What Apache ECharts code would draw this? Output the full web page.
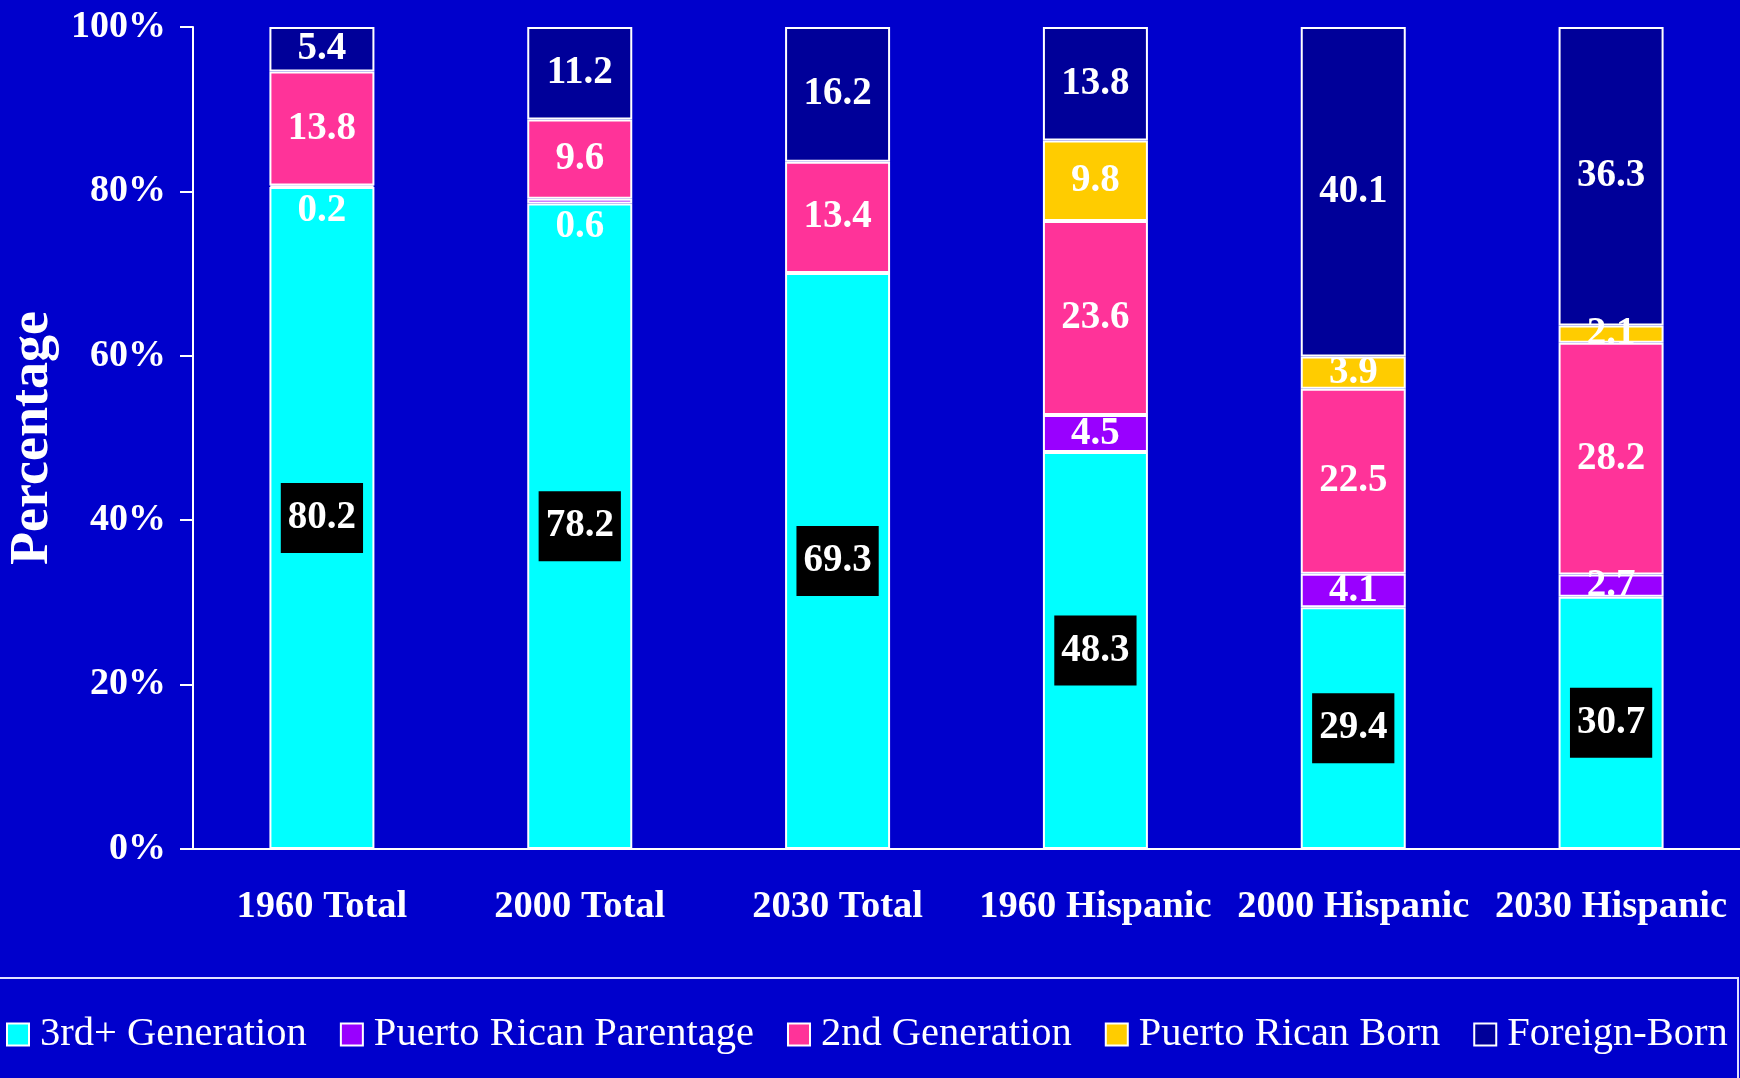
<!DOCTYPE html>
<html>
<head>
<meta charset="utf-8">
<title>Generations</title>
<script src="https://cdn.jsdelivr.net/npm/echarts@6/dist/echarts.min.js"></script>
<style>
  html, body { margin: 0; padding: 0; background: #0000cc; }
  #chart { width: 1740px; height: 1078px; }
</style>
</head>
<body>
<div id="chart"></div>
<script>
const categories = ['1960 Total', '2000 Total', '2030 Total', '1960 Hispanic', '2000 Hispanic', '2030 Hispanic']
const seriesNames = ['3rd+ Generation', 'Puerto Rican Parentage', '2nd Generation', 'Puerto Rican Born', 'Foreign-Born']
// values as labelled on the slide (null = no segment)
const thirdGen = [80.2, 78.2, 69.3, 48.3, 29.4, 30.7]
const prParentage = [0.2, 0.6, null, 4.5, 4.1, 2.7]
const secondGen = [13.8, 9.6, 13.4, 23.6, 22.5, 28.2]
const prBorn = [null, null, null, 9.8, 3.9, 2.1]
const foreignBorn = [5.4, 11.2, 16.2, 13.8, 40.1, 36.3]
const yTicks = [0, 20, 40, 60, 80, 100]

const colors = ['#00ffff', '#9900ff', '#ff3399', '#ffcc00', '#000099']
const font = "'Liberation Serif', 'Times New Roman', serif"
const raw = [thirdGen, prParentage, secondGen, prBorn, foreignBorn]

// 100% stacked: each bar is scaled to its own total
const totals = categories.map(function(c, i) {
  return raw.reduce(function(s, arr) { return s + (arr[i] || 0) }, 0)
})

const chart = echarts.init(document.getElementById('chart'))

const series = raw.map(function(arr, si) {
  return {
    name: seriesNames[si],
    type: 'bar',
    stack: 'all',
    barWidth: 105,
    itemStyle: { color: colors[si], borderColor: '#ffffff', borderWidth: 2 },
    label: {
      show: true,
      position: 'inside',
      color: '#ffffff',
      fontFamily: font,
      fontWeight: 'bold',
      fontSize: 39,
      formatter: function(p) { return arr[p.dataIndex].toFixed(1) }
    },
    data: arr.map(function(v, i) {
      if (v === null) return '-'
      const item = { value: v / totals[i] * 100 }
      if (si === 0) {
        item.label = { backgroundColor: '#000000', padding: [16, 7], lineHeight: 38 }
      }
      if (si === 1 && i < 3) {
        item.label = { position: 'bottom', distance: 4 }
      }
      return item
    })
  }
})

const option = {
  backgroundColor: '#0000cc',
  animation: false,
  grid: { left: 193, right: 0, top: 27, bottom: 229, outerBoundsMode: 'none' },
  legend: {
    left: 6,
    top: 1014,
    padding: 0,
    itemGap: 33,
    itemWidth: 22,
    itemHeight: 22,
    icon: 'rect',
    itemStyle: { borderColor: '#ffffff', borderWidth: 2 },
    textStyle: { color: '#ffffff', fontFamily: font, fontSize: 40.5, padding: [0, 0, 0, 6] },
    data: seriesNames
  },
  xAxis: {
    type: 'category',
    data: categories,
    axisLine: { lineStyle: { color: '#ffffff', width: 2 } },
    axisTick: { length: 10, lineStyle: { color: '#ffffff', width: 2 } },
    axisLabel: {
      color: '#ffffff',
      fontFamily: font,
      fontWeight: 'bold',
      fontSize: 38.5,
      margin: 39,
      interval: 0
    }
  },
  yAxis: {
    type: 'value',
    min: yTicks[0],
    max: yTicks[yTicks.length - 1],
    interval: 20,
    name: 'Percentage',
    nameLocation: 'middle',
    nameGap: 126,
    nameTextStyle: { color: '#ffffff', fontFamily: font, fontWeight: 'bold', fontSize: 54 },
    axisLine: { show: true, lineStyle: { color: '#ffffff', width: 2 } },
    axisTick: { show: true, length: 13, lineStyle: { color: '#ffffff', width: 2 } },
    splitLine: { show: false },
    axisLabel: {
      color: '#ffffff',
      fontFamily: font,
      fontWeight: 'bold',
      fontSize: 38,
      margin: 27,
      padding: [4, 0, 0, 0],
      formatter: '{value}%'
    }
  },
  graphic: [
    {
      type: 'rect',
      shape: { x: -4, y: 978, width: 1742, height: 120 },
      style: { fill: 'none', stroke: '#e0e0ff', lineWidth: 2 },
      silent: true
    }
  ],
  series: series
}

chart.setOption(option)
window.addEventListener('resize', function() {
  chart.resize()
})
</script>
</body>
</html>
